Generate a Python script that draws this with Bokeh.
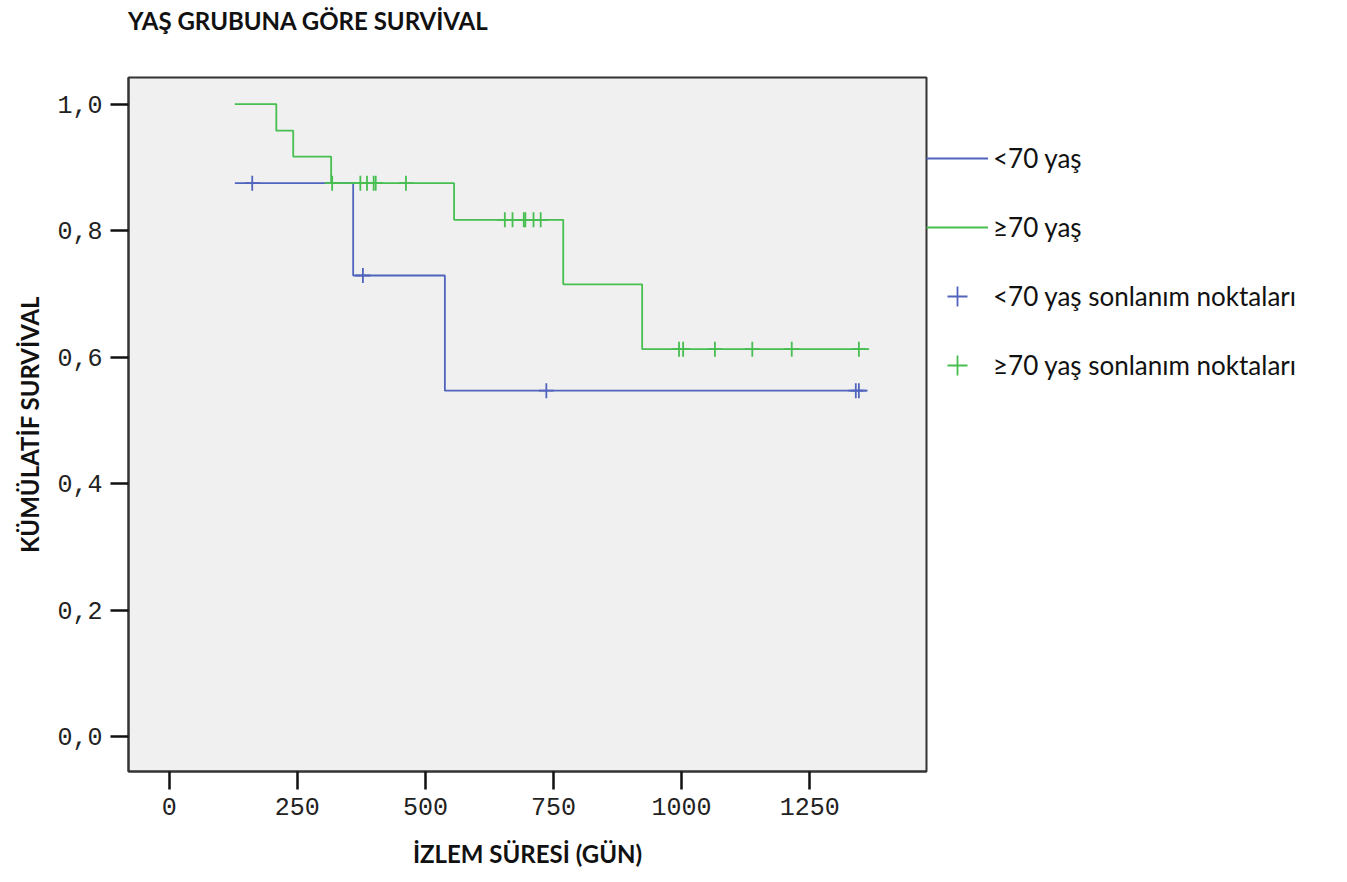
from bokeh.plotting import figure
from bokeh.models import Legend, LegendItem, FixedTicker, Range1d, Div
from bokeh.layouts import column
from bokeh.embed import file_html
from bokeh.resources import INLINE

# ---- data ----
# Kaplan-Meier steps: time (days) and cumulative survival after that time
young_times = [128, 359, 538, 1363]
young_surv = [0.875, 0.729, 0.547, 0.547]
old_times = [128, 209, 242, 316, 556, 769, 923, 1366]
old_surv = [1.0, 0.958, 0.917, 0.875, 0.817, 0.715, 0.6125, 0.6125]

# censored observations
young_cens_t = [162, 378, 736, 1340, 1346]
young_cens_s = [0.875, 0.729, 0.547, 0.547, 0.547]
old_cens_t = [318, 373, 386, 399, 403, 462, 655, 670, 692, 695, 711, 725,
              995, 1003, 1065, 1138, 1215, 1346]
old_cens_s = [0.875, 0.875, 0.875, 0.875, 0.875, 0.875,
              0.817, 0.817, 0.817, 0.817, 0.817, 0.817,
              0.6125, 0.6125, 0.6125, 0.6125, 0.6125, 0.6125]

x_ticks = [0, 250, 500, 750, 1000, 1250]
y_ticks = [0.0, 0.2, 0.4, 0.6, 0.8, 1.0]
y_tick_labels = ["0,0", "0,2", "0,4", "0,6", "0,8", "1,0"]

series_names = ["<70 yaş", "≥70 yaş", "<70 yaş sonlanım noktaları", "≥70 yaş sonlanım noktaları"]
title_text = "YAŞ GRUBUNA GÖRE SURVİVAL"
x_label = "İZLEM SÜRESİ (GÜN)"
y_label = "KÜMÜLATİF SURVİVAL"

BLUE = "#5064be"
GREEN = "#46be50"

title_div = Div(text=title_text, width=1200, height=42, margin=(0, 0, 0, 128),
                styles={"font-family": "Lato", "font-weight": "bold", "font-size": "24px",
                        "line-height": "42px", "color": "#111111", "white-space": "nowrap"})

p = figure(frame_width=798, frame_height=694, output_backend="svg", toolbar_location=None,
           x_range=Range1d(-79.5, 1478), y_range=Range1d(-0.055, 1.042),
           min_border_left=128, min_border_top=35, min_border_bottom=111,
           min_border_right=10, title_location=None)

p.background_fill_color = "#f0f0f0"
p.border_fill_color = "white"
p.outline_line_color = "#333333"
p.outline_line_width = 2
p.grid.visible = False

r_y = p.step(young_times, young_surv, mode="after", line_color=BLUE, line_width=1.8)
r_o = p.step(old_times, old_surv, mode="after", line_color=GREEN, line_width=1.8)
c_y = p.scatter(young_cens_t, young_cens_s, marker="cross", size=15, line_color=BLUE, line_width=1.8)
c_o = p.scatter(old_cens_t, old_cens_s, marker="cross", size=15, line_color=GREEN, line_width=1.8)

for ax in (p.xaxis[0], p.yaxis[0]):
    ax.axis_line_color = "#333333"
    ax.axis_line_width = 2
    ax.major_tick_line_color = "#111111"
    ax.major_tick_line_width = 2.5
    ax.major_tick_in = 0
    ax.major_tick_out = 18
    ax.minor_tick_line_color = None
    ax.major_label_text_font = "Liberation Mono"
    ax.major_label_text_font_size = "25px"
    ax.major_label_text_color = "#222222"
    ax.axis_label_text_font = "Lato"
    ax.axis_label_text_font_style = "bold"
    ax.axis_label_text_font_size = "24px"
    ax.axis_label_text_color = "#111111"

p.xaxis.ticker = FixedTicker(ticks=x_ticks)
p.xaxis.axis_label = x_label
p.xaxis.major_label_standoff = 8
p.xaxis.axis_label_standoff = 21

p.yaxis.ticker = FixedTicker(ticks=y_ticks)
p.yaxis.major_label_overrides = {t: l for t, l in zip(y_ticks, y_tick_labels)}
p.yaxis.axis_label = y_label
p.yaxis.major_label_standoff = 8
p.yaxis.axis_label_standoff = 10

legend = Legend(items=[
    LegendItem(label=series_names[0], renderers=[r_y]),
    LegendItem(label=series_names[1], renderers=[r_o]),
    LegendItem(label=series_names[2], renderers=[c_y]),
    LegendItem(label=series_names[3], renderers=[c_o]),
], location=(0, 381))
legend.background_fill_alpha = 0
legend.border_line_color = None
legend.padding = 0
legend.margin = 0
legend.spacing = 19
legend.glyph_width = 62
legend.glyph_height = 50
legend.label_height = 50
legend.label_standoff = 5
legend.label_text_font = "Lato"
legend.label_text_font_size = "26px"
legend.label_text_color = "#111111"
p.add_layout(legend, "right")

layout = column(title_div, p, spacing=0)
open("out.html", "w").write(file_html(layout, INLINE))
